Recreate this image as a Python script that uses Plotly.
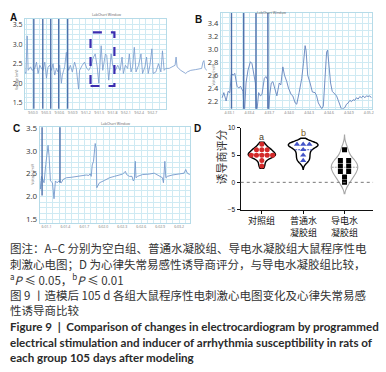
import plotly.graph_objects as go
from collections import Counter

W, H = 386, 372

# ---------------- Panel A (blank group ECG) ----------------
a_t = [0, 1, 2.3, 3.3, 5.7, 7.3, 10, 11.7, 13.3, 15, 16.7, 18.3, 20, 21.7, 23.3, 25, 26.7, 28.3,
       30, 31.7, 33.3, 35, 36.7, 37.7, 40, 41.7, 42.7, 44, 45.7, 47.7, 50, 51.7, 54, 55, 57.7,
       60, 62.3, 64.3, 66.7, 68.3, 70.7, 72.7, 74.3, 76.7, 78.3, 81, 82.3, 84.3, 86.7, 88.3,
       91, 93.3, 95.7, 97.7, 99, 101, 103.3, 105, 106.7, 108.3, 110, 111.7, 114.3, 116.7,
       118.3, 120.7, 122.3, 124, 125.7, 127.7, 129, 131.7, 134.3, 136.7, 138.3, 140, 141.7,
       145, 148.3, 151, 152, 153, 156.7, 161.7, 163.3, 166.7, 171.7, 177.7, 179, 180, 181, 183]
a_v = [2.29, 2.25, 3.21, 2.33, 2.42, 2.33, 2.38, 2.54, 2.25, 2.46, 2.38, 2.33, 2.54, 2.13, 2.42,
       2.46, 2.33, 2.50, 2.21, 2.38, 2.29, 2.46, 2.00, 2.21, 2.42, 2.79, 2.50, 2.33, 2.46, 2.29,
       2.54, 2.38, 1.85, 2.33, 2.46, 2.54, 2.38, 2.33, 2.46, 2.63, 2.75, 2.42, 2.00, 2.96, 2.33,
       2.75, 2.71, 2.08, 2.75, 2.46, 2.33, 2.46, 2.33, 2.67, 2.25, 2.46, 2.38, 2.75, 2.29, 2.42,
       2.92, 2.29, 2.46, 2.75, 2.25, 2.42, 2.67, 2.25, 2.46, 2.88, 2.25, 2.29, 2.50, 2.29, 2.83,
       2.33, 2.38, 2.38, 2.42, 2.46, 2.67, 2.42, 2.33, 2.25, 2.29, 2.33, 2.35, 2.38, 2.54, 2.58,
       2.38, 2.33]
a_stim = [9, 18, 26, 34, 43]
a_window_t = [66, 90]
a_window_v = [1.93, 3.3]
a_ticks = ["9:50.0", "9:50.3", "9:50.6", "9:50.9", "9:51.2", "9:51.5", "9:51.8", "9:52.1",
           "9:52.4", "9:52.7"]

# ---------------- Panel B (ordinary hydrogel group ECG) ----------------
b_t = [1.3, 3.0, 5.3, 7.3, 9.0, 10.7, 12.3, 14.0, 16.3, 18.0, 19.7, 21.3, 22.3, 23.7, 25.3, 27.3,
       29.7, 31.3, 33.7, 34.7, 36.0, 38.0, 39.7, 41.3, 43.7, 45.3, 47.0, 48.0, 49.0, 50.7, 52.3,
       54.7, 56.3, 58.7, 60.3, 62.3, 64.0, 66.3, 68.0, 70.7, 72.3, 74.7, 76.3, 78.7, 81.3, 83.0,
       84.7, 85.7, 87.3, 89.7, 92.0, 94.7, 96.3, 98.0, 99.7, 101.3, 103.0, 104.7, 106.3, 107.3,
       108.7, 110.3, 112.0, 114.7, 116.3, 118.0, 119.7, 121.3, 123.0, 124.7, 126.3, 128.0, 129.7,
       131.3, 133.0, 134.7, 136.3, 138.0, 139.7, 141.3, 143.0, 144.7, 146.3, 148.0, 149.7, 151.3]
b_v = [2.25, 2.33, 2.20, 2.35, 2.33, 2.63, 2.60, 2.63, 2.43, 2.40, 2.43, 2.38, 2.35, 2.00, 2.48,
       2.68, 2.81, 2.78, 2.58, 2.48, 2.00, 2.33, 2.28, 2.30, 2.55, 2.58, 2.53, 2.00, 2.28, 2.48,
       2.50, 2.35, 2.28, 2.48, 2.45, 2.73, 2.60, 2.50, 2.40, 2.30, 2.28, 2.17, 2.15, 2.33, 2.55,
       2.78, 3.06, 2.98, 2.60, 2.48, 2.34, 2.33, 2.28, 2.17, 2.12, 2.08, 2.12, 2.48, 2.96, 2.99,
       2.78, 2.48, 2.35, 2.30, 2.28, 2.21, 2.12, 2.07, 2.08, 2.10, 2.15, 2.17, 2.21, 2.19, 2.22,
       2.21, 2.25, 2.23, 2.27, 2.25, 2.28, 2.25, 2.28, 2.27, 2.28, 2.25]
b_stim = [10.7, 23.0, 35.3, 47.3]
b_ticks = ["4:33.1", "4:33.4", "4:33.7", "4:34.0", "4:34.3", "4:34.6", "4:34.9", "4:35.2"]

# ---------------- Panel C (conductive hydrogel group ECG) ----------------
c_t = [0, 0.7, 1.7, 4.3, 6.0, 7.3, 8.3, 9.3, 10.7, 12.7, 14.3, 15.7, 17.3, 19.3, 21.7, 23.3,
       26.7, 31.7, 36.7, 41.7, 46.7, 49.3, 50.7, 51.7, 52.7, 54.0, 55.7, 56.7, 57.3, 58.7, 60.0,
       65.0, 70.0, 75.0, 80.0, 83.3, 86.0, 87.3, 90.0, 92.7, 94.0, 95.0, 96.0, 96.7, 98.3,
       103.3, 110.0, 115.0, 116.7, 123.3, 124.3, 125.7, 126.7, 128.3, 133.3, 140.0, 145.0,
       146.7, 148.3, 150.7]
c_v = [2.34, 2.16, 2.44, 2.30, 2.70, 3.05, 3.12, 2.90, 2.34, 2.30, 1.95, 2.34, 2.30, 2.34, 2.30,
       2.37, 2.41, 2.42, 2.44, 2.45, 2.47, 2.46, 2.50, 2.44, 2.69, 2.77, 3.16, 3.05, 2.19, 2.25,
       2.30, 2.35, 2.41, 2.44, 2.47, 2.49, 2.55, 2.48, 2.44, 2.44, 2.34, 2.37, 2.77, 2.41, 2.44,
       2.48, 2.49, 2.51, 2.49, 2.41, 2.30, 2.77, 2.41, 2.44, 2.47, 2.49, 2.51, 2.59, 2.51, 2.48]
c_stim = [2.3, 20.3]
c_stim_low = [2.02, 2.30]
c_ticks = ["6:01.1", "6:01.4", "6:01.7", "6:02.0", "6:02.3", "6:02.6", "6:02.9", "6:03.2"]

# ---------------- Panel D (arrhythmia inducibility score) ----------------
groups = ["对照组", "普通水<br>凝胶组", "导电水<br>凝胶组"]
g_control = [7, 6, 6, 6, 5, 5, 5, 5, 5, 4, 3]
g_ordinary = [7, 7, 7, 6, 5, 4]
g_conductive = [6, 4, 4, 3, 3, 2, 2, 1, 0]
sig_labels = ["a", "b", ""]

caption_lines = [
    "图注：A–C 分别为空白组、普通水凝胶组、导电水凝胶组大鼠程序性电",
    "刺激心电图；D 为心律失常易感性诱导商评分，与导电水凝胶组比较，",
    "<sup>a</sup><i>P</i> ≤ 0.05，<sup>b</sup><i>P</i> ≤ 0.01",
    "图 9 丨造模后 105 d 各组大鼠程序性电刺激心电图变化及心律失常易感",
    "性诱导商比较",
]
caption_en = [
    "Figure 9  |  Comparison of changes in electrocardiogram by programmed",
    "electrical stimulation and inducer of arrhythmia susceptibility in rats of",
    "each group 105 days after modeling",
]

# ---------------- styles ----------------
GRID = "#cfeaf3"
TRACE = "#7598cc"
STIM = "#4d70ab"
CJK = "Noto Sans CJK SC"


def stim_segments(times, lows, highs):
    xs, ys = [], []
    for t, lo, hi in zip(times, lows, highs):
        xs += [t, t, None]
        ys += [lo, hi, None]
    return xs, ys


def px_x(p):
    return p / W


def px_y(p):
    return 1 - p / H


fig = go.Figure()

# A trace + extension beyond the frame
fig.add_trace(go.Scatter(x=a_t, y=a_v, mode="lines", line=dict(color=TRACE, width=0.8),
                         xaxis="x", yaxis="y"))
fig.add_trace(go.Scatter(x=a_t, y=a_v, mode="lines", line=dict(color=TRACE, width=0.8),
                         xaxis="x5", yaxis="y5"))
sx, sy = stim_segments(a_stim, [0] * len(a_stim), [5] * len(a_stim))
fig.add_trace(go.Scatter(x=sx, y=sy, mode="lines", line=dict(color=STIM, width=1.4),
                         xaxis="x", yaxis="y"))

# B
fig.add_trace(go.Scatter(x=b_t, y=b_v, mode="lines", line=dict(color="#6383bd", width=0.9),
                         xaxis="x2", yaxis="y2"))
sx, sy = stim_segments(b_stim, [0] * len(b_stim), [5] * len(b_stim))
fig.add_trace(go.Scatter(x=sx, y=sy, mode="lines", line=dict(color=STIM, width=1.4),
                         xaxis="x2", yaxis="y2"))

# C
fig.add_trace(go.Scatter(x=c_t, y=c_v, mode="lines", line=dict(color=TRACE, width=0.9),
                         xaxis="x3", yaxis="y3"))
sx, sy = stim_segments(c_stim, c_stim_low, [5] * len(c_stim))
fig.add_trace(go.Scatter(x=sx, y=sy, mode="lines", line=dict(color=STIM, width=1.4),
                         xaxis="x3", yaxis="y3"))

# D violins
d_specs = [
    (g_control, "#000000", "#d42a2a", "circle", [2.6, 7.4], 0.55, 0.66, 0.13),
    (g_ordinary, "#000000", "#4354c8", "triangle-up", [2.4, 8.1], 0.6, 0.72, 0.15),
    (g_conductive, "#a6a6a6", "#000000", "square", [-2.1, 8.7], 1.0, 0.64, 0.2),
]


def swarm(values, center, step):
    counts = Counter(values)
    seen = {}
    xs = []
    for v in values:
        n = counts[v]
        k = seen.get(v, 0)
        seen[v] = k + 1
        xs.append(center + (k - (n - 1) / 2) * step)
    return xs


for i, (vals, lc, pc, sym, span, bw, wd, step) in enumerate(d_specs):
    fig.add_trace(go.Violin(x=[i] * len(vals), y=vals, xaxis="x4", yaxis="y4",
                            line=dict(color=lc, width=1.4 if i < 2 else 1.1),
                            fillcolor="white", points=False, spanmode="manual", span=span,
                            bandwidth=bw, width=wd, scalemode="width",
                            meanline=dict(visible=True, color=pc if i < 2 else "#a6a6a6", width=1)))
    fig.add_trace(go.Scatter(x=swarm(vals, i, step), y=vals, mode="markers", xaxis="x4", yaxis="y4",
                             marker=dict(symbol=sym, color=pc, size=5 if sym != "triangle-up" else 5.5)))
    if sig_labels[i]:
        fig.add_annotation(x=i, y=span[1] + 1.0, xref="x4", yref="y4", text=sig_labels[i],
                           showarrow=False, font=dict(size=9, color="#4a3c28" if i == 0 else "#7a5a26",
                                                      family="Liberation Sans"))
    # category label (one text, possibly two lines)
    fig.add_annotation(x=i, y=px_y(212), xref="x4", yref="paper", text=groups[i], showarrow=False,
                       yanchor="top", align="center", font=dict(size=9, color="#111", family=CJK))

tick_font = dict(size=3.5, color="#777", family="Open Sans")


def ecg_x(domain, rng, tick0, step, labels, minor_step, anchor):
    return dict(domain=domain, range=rng, anchor=anchor, tickmode="array",
                tickvals=[tick0 + k * step for k in range(len(labels))], ticktext=labels,
                tickfont=tick_font, showgrid=True, gridcolor=GRID, gridwidth=0.7,
                minor=dict(tick0=tick0, dtick=minor_step, showgrid=True, gridcolor=GRID, gridwidth=0.6),
                showline=True, linecolor="#b6dbe8", mirror=True, zeroline=False, ticks="")


def ecg_y(domain, rng, dtick, minor_step, anchor, size=7.5):
    return dict(domain=domain, range=rng, anchor=anchor, dtick=dtick, tick0=0, tickformat=".1f",
                tickfont=dict(size=size, color="#333", family="Open Sans"), showgrid=True,
                gridcolor=GRID, gridwidth=0.7,
                minor=dict(dtick=minor_step, tick0=0, showgrid=True, gridcolor=GRID, gridwidth=0.6),
                showline=True, linecolor="#b6dbe8", mirror=True, zeroline=False, ticks="")


fig.update_layout(
    width=W, height=H, margin=dict(l=0, r=0, t=0, b=0), showlegend=False,
    paper_bgcolor="white", plot_bgcolor="white",
    xaxis=ecg_x([px_x(25), px_x(167)], [0, 142], 8, 13.35, a_ticks, 13.35 / 2, "y"),
    yaxis=ecg_y([px_y(106), px_y(14)], [1.35, 3.65], 0.5, 0.125, "x", size=7),
    xaxis5=dict(domain=[px_x(167), px_x(208)], range=[142, 183], anchor="y5", visible=False),
    yaxis5=dict(domain=[px_y(106), px_y(14)], range=[1.35, 3.65], anchor="x5", visible=False),
    xaxis2=ecg_x([px_x(222), px_x(374)], [0, 152], 8.7, 20.0, b_ticks, 20.0 / 3, "y2"),
    yaxis2=ecg_y([px_y(106), px_y(8)], [2.08, 3.57], 0.2, 0.1, "x2"),
    xaxis3=ecg_x([px_x(40), px_x(191)], [0, 151], 6.7, 19.05, c_ticks, 19.05 / 3, "y3"),
    yaxis3=ecg_y([px_y(223), px_y(125)], [1.414, 3.515], 0.5, 0.125, "x3", size=8),
    xaxis4=dict(domain=[px_x(242), px_x(375)], range=[-0.51, 2.69], anchor="y4",
                tickmode="array", tickvals=list(range(len(groups))),
                ticktext=[""] * len(groups), showgrid=False, zeroline=False,
                showline=True, linecolor="#111", linewidth=1.4, ticks="outside", ticklen=3,
                tickcolor="#111"),
    yaxis4=dict(domain=[px_y(209), px_y(125.7)], range=[-5, 10], anchor="x4", tickvals=[-5, 0, 5, 10],
                tickfont=dict(size=6.5, color="#111", family="Liberation Sans"), showgrid=False,
                zeroline=False, showline=True, linecolor="#111", linewidth=1.4, ticks="outside",
                ticklen=3, tickcolor="#111"),
)

# dotted zero line in D
fig.add_shape(type="line", xref="x4 domain", yref="y4", x0=0, x1=1, y0=0, y1=0,
              line=dict(color="#777", width=1, dash="dot"))

# highlight window in A
fig.add_shape(type="rect", xref="x", yref="y", x0=a_window_t[0], x1=a_window_t[1],
              y0=a_window_v[0], y1=a_window_v[1], line=dict(color="#3a2db0", width=2.2, dash="dash"))

# panel letters
for letter, (lx, ly) in zip("ABCD", [(9, 6), (199.5, 8.5), (12.5, 126.5), (198.5, 126)]):
    fig.add_annotation(x=px_x(lx), y=px_y(ly), xref="paper", yref="paper", text=f"<b>{letter}</b>",
                       showarrow=False, borderpad=0,
                       font=dict(size=10, color="#111", family="Liberation Sans"))

# tiny LabChart titles and axis titles
for tx, ty in [(90, 5), (290, 3), (100, 116)]:
    fig.add_annotation(x=px_x(tx), y=px_y(ty), xref="paper", yref="paper", text="LabChart Window",
                       showarrow=False, font=dict(size=3.5, color="#666", family="Open Sans"))
for tx, ty in [(12, 64), (215, 60), (28, 173)]:
    fig.add_annotation(x=px_x(tx), y=px_y(ty), xref="paper", yref="paper", text="Voltage (mV)",
                       textangle=-90, showarrow=False, font=dict(size=3.5, color="#666", family="Open Sans"))

# D y-axis title
fig.add_annotation(x=px_x(222), y=px_y(155), xref="paper", yref="paper", text="诱导商评分",
                   textangle=-90, showarrow=False, font=dict(size=11, color="#333", family=CJK))

# captions
cap_y = [248.3, 265, 280.5, 296.7, 311.7]
for line, yy in zip(caption_lines, cap_y):
    fig.add_annotation(x=px_x(8), y=px_y(yy), xref="paper", yref="paper", text=line, xanchor="left",
                       yanchor="middle", showarrow=False, font=dict(size=11.5, color="#333", family=CJK))
en_y = [328.3, 345, 360]
for line, yy in zip(caption_en, en_y):
    fig.add_annotation(x=px_x(8), y=px_y(yy), xref="paper", yref="paper", text=f"<b>{line}</b>",
                       xanchor="left", yanchor="middle", showarrow=False,
                       font=dict(size=11.6, color="#2a2a2a", family="Lato"))

fig.write_html("out.html", config={"displayModeBar": False},
               post_script="document.body.style.margin='0';")
